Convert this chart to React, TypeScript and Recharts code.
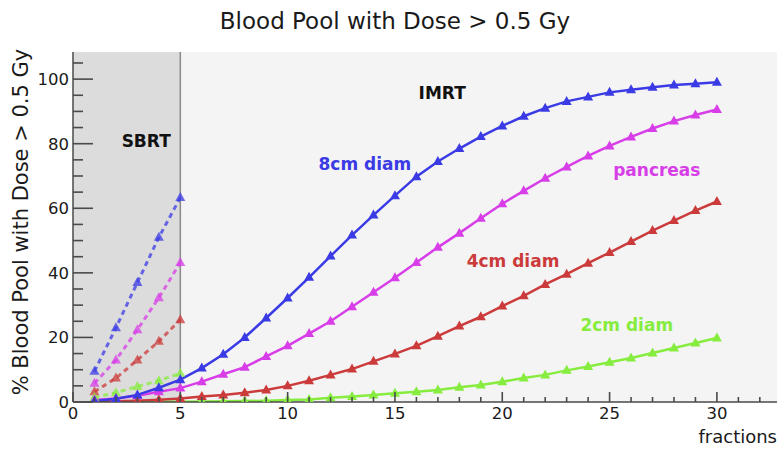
import React from "react";
import { LineChart, Line, XAxis, YAxis, ReferenceLine, ReferenceDot } from "recharts";

// number of fractions (x axis)
const fractions = [1, 2, 3, 4, 5, 6, 7, 8, 9, 10, 11, 12, 13, 14, 15, 16, 17, 18, 19, 20, 21, 22, 23, 24, 25, 26, 27, 28, 29, 30];

// IMRT curves, % blood pool with dose > 0.5 Gy
const imrt8cm = [0.3, 1.0, 2.2, 4.4, 6.9, 10.5, 14.8, 20.0, 26.0, 32.2, 38.6, 45.2, 51.7, 57.9, 63.9, 69.8, 74.5, 78.5, 82.2, 85.5, 88.5, 91.0, 93.1, 94.5, 95.9, 96.7, 97.5, 98.2, 98.6, 99.0];
const imrtPancreas = [0.6, 1.1, 1.9, 3.2, 4.3, 6.3, 8.6, 10.8, 14.1, 17.4, 21.2, 25.0, 29.5, 34.0, 38.5, 43.2, 47.9, 52.3, 56.9, 61.4, 65.4, 69.3, 72.8, 76.2, 79.3, 82.1, 84.7, 87.0, 88.9, 90.6];
const imrt4cm = [0.1, 0.2, 0.4, 0.7, 1.1, 1.7, 2.2, 2.9, 3.7, 5.0, 6.6, 8.4, 10.2, 12.6, 14.9, 17.4, 20.4, 23.5, 26.4, 29.7, 32.9, 36.4, 39.6, 43.0, 46.3, 49.7, 53.1, 56.2, 59.3, 62.1];
const imrt2cm = [0, 0, 0.05, 0.1, 0.1, 0.15, 0.2, 0.3, 0.4, 0.6, 0.8, 1.3, 1.7, 2.2, 2.7, 3.2, 3.7, 4.6, 5.3, 6.3, 7.4, 8.4, 9.8, 11.0, 12.3, 13.6, 15.2, 16.7, 18.3, 19.8];

// SBRT curves (1-5 fractions)
const sbrt8cm = [9.5, 23.0, 37.0, 51.0, 63.3];
const sbrtPancreas = [5.8, 13.0, 22.4, 32.3, 43.2];
const sbrt4cm = [3.2, 7.4, 13.0, 18.8, 25.5];
const sbrt2cm = [1.4, 2.9, 4.8, 6.6, 8.9];

const xTicks = [0, 1, 2, 3, 4, 5, 6, 7, 8, 9, 10, 11, 12, 13, 14, 15, 16, 17, 18, 19, 20, 21, 22, 23, 24, 25, 26, 27, 28, 29, 30, 31, 32];
const yTicks = [0, 5, 10, 15, 20, 25, 30, 35, 40, 45, 50, 55, 60, 65, 70, 75, 80, 85, 90, 95, 100, 105];

const X_MAX = 32.8;
const Y_MAX = 108.4;
const SBRT_END = 5;

const W = 783;
const H = 451;
const MARGIN = { top: 52, right: 6, bottom: 20, left: 13 };
const Y_AXIS_W = 60;
const X_AXIS_H = 29;
const PLOT = {
  left: MARGIN.left + Y_AXIS_W,
  top: MARGIN.top,
  width: W - MARGIN.left - Y_AXIS_W - MARGIN.right,
  height: H - MARGIN.top - MARGIN.bottom - X_AXIS_H,
};

const FONT = '"DejaVu Sans", Verdana, sans-serif';
const AXIS = "#4a4a4a";
const TICK = "#4a4a4a";
const TEXT = "#1a1a1a";

const BLUE = "#3b3be6";
const MAGENTA = "#d83ee8";
const RED = "#cc3b3b";
const GREEN = "#86ec3e";

const sb = (arr: number[], i: number) => (i < arr.length ? arr[i] : null);

const data = fractions.map((f, i) => ({
  f,
  b8: imrt8cm[i],
  panc: imrtPancreas[i],
  r4: imrt4cm[i],
  g2: imrt2cm[i],
  sb8: sb(sbrt8cm, i),
  spanc: sb(sbrtPancreas, i),
  s4: sb(sbrt4cm, i),
  s2: sb(sbrt2cm, i),
}));

const triangle = (color: string, opacity = 1) => (p: any) => {
  const key = `t-${p.index}`;
  if (p.cx == null || p.cy == null || p.value == null) return <g key={key} />;
  const { cx, cy } = p;
  return (
    <path
      key={key}
      d={`M${cx},${cy - 5.5}L${cx + 5},${cy + 3.5}L${cx - 5},${cy + 3.5}Z`}
      fill={color}
      fillOpacity={opacity}
    />
  );
};

// ticks point inward; majors every 5 fractions / every 20 %
const BottomTick = (p: any) => {
  const v = p.payload.value;
  const major = v % 5 === 0;
  return (
    <g>
      <line x1={p.x} x2={p.x} y1={p.y} y2={p.y - (major ? 10 : 5)} stroke={TICK} strokeWidth={1.6} />
      {major && (
        <text x={p.x} y={p.y + 17} textAnchor="middle" fontSize={16.5} fill={TEXT} fontFamily={FONT}>
          {v}
        </text>
      )}
    </g>
  );
};

const TopTick = (p: any) => {
  const major = p.payload.value % 5 === 0;
  return <line x1={p.x} x2={p.x} y1={p.y} y2={p.y + (major ? 9 : 5)} stroke={TICK} strokeWidth={1.6} />;
};

const LeftTick = (p: any) => {
  const v = p.payload.value;
  const major = v % 20 === 0;
  return (
    <g>
      <line x1={p.x} x2={p.x + (major ? 20 : 10)} y1={p.y} y2={p.y} stroke={TICK} strokeWidth={1.6} />
      {major && (
        <text x={p.x - 4} y={p.y + 6} textAnchor="end" fontSize={16.5} fill={TEXT} fontFamily={FONT}>
          {v}
        </text>
      )}
    </g>
  );
};

const RightTick = (p: any) => {
  const major = p.payload.value % 20 === 0;
  return <line x1={p.x} x2={p.x - (major ? 20 : 10)} y1={p.y} y2={p.y} stroke={TICK} strokeWidth={1.6} />;
};

const YLabel = (p: any) => {
  const vb = p.viewBox;
  const x = vb.x + 8;
  const y = vb.y + vb.height / 2 - 5;
  return (
    <text x={x} y={y} transform={`rotate(-90 ${x} ${y})`} textAnchor="middle" dominantBaseline="central" fontSize={21} fill={TEXT} fontFamily={FONT}>
      % Blood Pool with Dose &gt; 0.5 Gy
    </text>
  );
};

const note = (text: string, color: string) => (p: any) => (
  <text x={p.cx} y={p.cy} textAnchor="middle" dominantBaseline="central" fontSize={17} fontWeight="bold" fill={color} fontFamily={FONT}>
    {text}
  </text>
);

export default function App() {
  const sbrtWidth = (SBRT_END / X_MAX) * PLOT.width;
  return (
    <div style={{ position: "absolute", left: 0, top: 0, width: W, height: H, background: "#fff" }}>
      {/* plot backgrounds sit behind the (transparent) chart svg */}
      <div style={{ position: "absolute", left: PLOT.left, top: PLOT.top, width: PLOT.width, height: PLOT.height, background: "#f4f4f4" }} />
      <div style={{ position: "absolute", left: PLOT.left, top: PLOT.top, width: sbrtWidth, height: PLOT.height, background: "#dcdcdc" }} />
      <div style={{ position: "absolute", left: 0, top: 0 }}>
        <LineChart width={W} height={H} data={data} margin={MARGIN}>
          <ReferenceLine x={SBRT_END} stroke="#8a8a8a" strokeWidth={1.5} />

          <XAxis dataKey="f" type="number" domain={[0, X_MAX]} allowDataOverflow ticks={xTicks} interval={0} height={X_AXIS_H} tickSize={0} tickMargin={0} tickLine={false} tick={<BottomTick />} axisLine={{ stroke: AXIS, strokeWidth: 1.5 }} />
          <XAxis xAxisId="top" orientation="top" type="number" domain={[0, X_MAX]} allowDataOverflow ticks={xTicks} interval={0} height={0} tickSize={0} tickMargin={0} tickLine={false} tick={<TopTick />} axisLine={{ stroke: AXIS, strokeWidth: 1.5 }} />
          <YAxis type="number" domain={[0, Y_MAX]} allowDataOverflow ticks={yTicks} interval={0} width={Y_AXIS_W} tickSize={0} tickMargin={0} tickLine={false} tick={<LeftTick />} axisLine={{ stroke: AXIS, strokeWidth: 1.5 }} label={<YLabel />} />
          <YAxis yAxisId="right" orientation="right" type="number" domain={[0, Y_MAX]} allowDataOverflow ticks={yTicks} interval={0} width={0} tickSize={0} tickMargin={0} tickLine={false} tick={<RightTick />} axisLine={{ stroke: AXIS, strokeWidth: 1.5 }} />

          <Line dataKey="sb8" stroke={BLUE} strokeOpacity={0.75} strokeWidth={3} strokeDasharray="5 4" dot={triangle(BLUE, 0.75)} isAnimationActive={false} />
          <Line dataKey="spanc" stroke={MAGENTA} strokeOpacity={0.75} strokeWidth={3} strokeDasharray="5 4" dot={triangle(MAGENTA, 0.75)} isAnimationActive={false} />
          <Line dataKey="s4" stroke={RED} strokeOpacity={0.75} strokeWidth={3} strokeDasharray="5 4" dot={triangle(RED, 0.75)} isAnimationActive={false} />
          <Line dataKey="s2" stroke={GREEN} strokeOpacity={0.75} strokeWidth={3} strokeDasharray="5 4" dot={triangle(GREEN, 0.75)} isAnimationActive={false} />

          <Line dataKey="g2" stroke={GREEN} strokeWidth={2.5} dot={triangle(GREEN)} isAnimationActive={false} />
          <Line dataKey="r4" stroke={RED} strokeWidth={2.5} dot={triangle(RED)} isAnimationActive={false} />
          <Line dataKey="panc" stroke={MAGENTA} strokeWidth={2.5} dot={triangle(MAGENTA)} isAnimationActive={false} />
          <Line dataKey="b8" stroke={BLUE} strokeWidth={2.5} dot={triangle(BLUE)} isAnimationActive={false} />

          <ReferenceDot x={3.41} y={80.7} r={0} shape={note("SBRT", "#111")} />
          <ReferenceDot x={17.2} y={95.6} r={0} shape={note("IMRT", "#111")} />
          <ReferenceDot x={13.6} y={73.8} r={0} shape={note("8cm diam", BLUE)} />
          <ReferenceDot x={27.2} y={71.7} r={0} shape={note("pancreas", MAGENTA)} />
          <ReferenceDot x={20.5} y={43.6} r={0} shape={note("4cm diam", RED)} />
          <ReferenceDot x={25.8} y={24.0} r={0} shape={note("2cm diam", GREEN)} />
        </LineChart>
      </div>
      <svg width={W} height={H} style={{ position: "absolute", left: 0, top: 0, pointerEvents: "none" }}>
        <text x={395} y={29} textAnchor="middle" fontSize={23} fill={TEXT} fontFamily={FONT}>
          Blood Pool with Dose &gt; 0.5 Gy
        </text>
        <text x={777} y={443} textAnchor="end" fontSize={18} fill={TEXT} fontFamily={FONT}>
          fractions
        </text>
      </svg>
    </div>
  );
}
